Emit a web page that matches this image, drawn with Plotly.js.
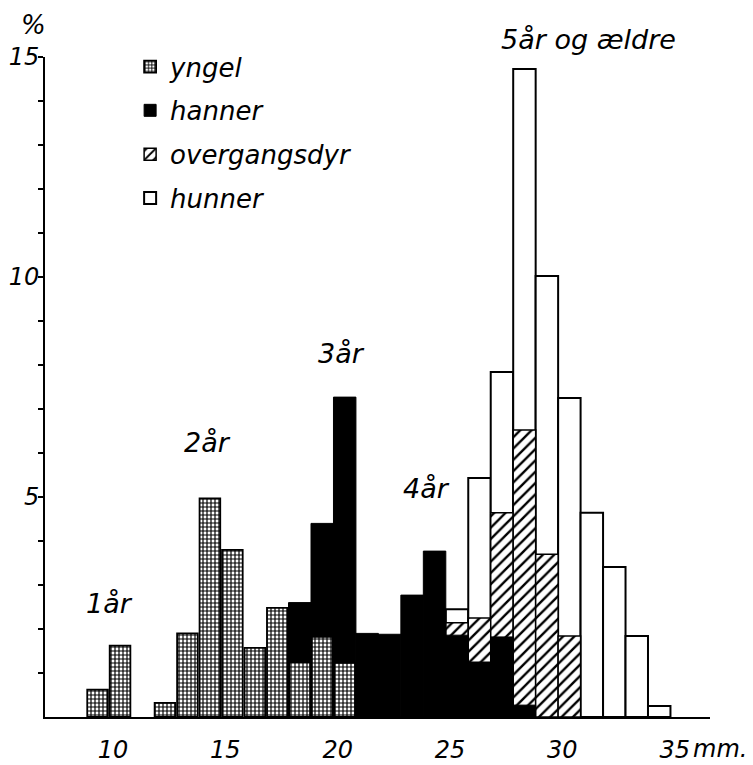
<!DOCTYPE html>
<html>
<head>
<meta charset="utf-8">
<script src="https://cdn.plot.ly/plotly-3.0.1.min.js"></script>
<style>html,body{margin:0;padding:0;background:#fff;}#chart{width:753px;height:765px;}</style>
</head>
<body>
<div id="chart"></div>
<script>
// Length classes (mm, bin centres) and percentages
const yngelX = [9, 10, 12, 13, 14, 15, 16, 17, 18, 19, 20];
const yngelY = [0.62, 1.62, 0.32, 1.9, 4.97, 3.8, 1.57, 2.48, 1.25, 1.82, 1.23];

const hannerX = [18, 19, 20, 21, 22, 23, 24, 25, 26, 27, 28];
const hannerY = [2.6, 4.4, 7.27, 1.9, 1.88, 2.77, 3.77, 1.86, 1.25, 1.82, 0.27];

const overgangX = [25, 26, 27, 28, 29, 30];
const overgangY = [2.14, 2.25, 4.64, 6.52, 3.7, 1.84];

const hunnerX = [25, 26, 27, 28, 29, 30, 31, 32, 33, 34];
const hunnerY = [2.45, 5.43, 7.84, 14.73, 10.02, 7.25, 4.64, 3.41, 1.84, 0.25];

const seriesNames = ["yngel", "hanner", "overgangsdyr", "hunner"];

const xTickVals = [10, 15, 20, 25, 30, 35];
const xTickText = ["10", "15", "20", "25", "30", "35"];
const yTickVals = [1, 2, 3, 4, 5, 6, 7, 8, 9, 10, 11, 12, 13, 14, 15];
const yTickText = ["", "", "", "", "5", "", "", "", "", "10", "", "", "", "", "15"];

const ageLabels = ["1år", "2år", "3år", "4år"];
const ageLabelX = [9.55, 13.9, 19.84, 23.66];
const ageLabelY = [2.57, 6.25, 8.27, 5.2];

const FONT = "DejaVu Sans, sans-serif";
const ital = (size) => ({family: FONT, size: size, color: "#000", style: "italic"});

const traces = [
  {
    type: "bar", name: seriesNames[3], x: hunnerX, y: hunnerY, width: 1,
    marker: {color: "#fff", line: {color: "#000", width: 2}},
    legendrank: 4, legendgroup: "d", hoverinfo: "x+y"
  },
  {
    type: "bar", name: seriesNames[2], x: overgangX, y: overgangY, width: 1,
    marker: {color: "#fff", line: {color: "#000", width: 1.5},
      pattern: {shape: "/", fgcolor: "#000", bgcolor: "#fff", size: 8, solidity: 0.3}},
    legendrank: 3, legendgroup: "c", hoverinfo: "x+y"
  },
  {
    type: "bar", name: seriesNames[1], x: hannerX, y: hannerY, width: 1,
    marker: {color: "#000", line: {color: "#000", width: 1}},
    legendrank: 2, legendgroup: "b", hoverinfo: "x+y"
  },
  {
    type: "bar", name: seriesNames[0], x: yngelX, y: yngelY, width: 0.92,
    marker: {color: "#fff", line: {color: "#000", width: 1.8},
      pattern: {shape: "+", fgcolor: "#000", bgcolor: "#fff", size: 4, solidity: 0.5}},
    legendrank: 1, legendgroup: "a", hoverinfo: "x+y"
  }
];

const annotations = ageLabels.map((t, i) => ({
  text: t, x: ageLabelX[i], y: ageLabelY[i], xref: "x", yref: "y",
  xanchor: "center", yanchor: "middle",
  showarrow: false, font: ital(27)
}));
annotations.push({text: "5år og ældre", x: 30.83, xref: "x", y: 1.026, yref: "paper",
  xanchor: "center", yanchor: "middle", showarrow: false, font: ital(27)});
annotations.push({text: "%", x: -0.018, xref: "paper", y: 1.048, yref: "paper",
  xanchor: "center", yanchor: "middle", showarrow: false, font: ital(26)});
annotations.push({text: "mm.", x: 35.42, xref: "x", xanchor: "left", y: -0.048, yref: "paper",
  yanchor: "middle", showarrow: false, font: ital(24)});

const layout = {
  width: 753, height: 765,
  margin: {l: 45, r: 43, t: 57, b: 48},
  paper_bgcolor: "#fff", plot_bgcolor: "#fff",
  barmode: "overlay", bargap: 0,
  showlegend: true,
  legend: {
    x: 0.128, y: 1.021, xanchor: "left", yanchor: "top",
    traceorder: "grouped", tracegroupgap: 7,
    font: ital(26), bgcolor: "rgba(0,0,0,0)", borderwidth: 0
  },
  xaxis: {
    range: [6.66, 36.26], showgrid: false, zeroline: false,
    showline: true, linecolor: "#000", linewidth: 2,
    ticks: "", tickmode: "array", tickvals: xTickVals, ticktext: xTickText,
    tickfont: ital(24), ticklabelshift: -7, ticklabelstandoff: 10
  },
  yaxis: {
    range: [0, 15], showgrid: false, zeroline: false,
    showline: true, linecolor: "#000", linewidth: 2,
    ticks: "outside", ticklen: 5, tickwidth: 2, tickcolor: "#000",
    tickmode: "array", tickvals: yTickVals, ticktext: yTickText,
    tickfont: ital(24), ticklabelstandoff: -6
  },
  annotations: annotations
};

Plotly.newPlot("chart", traces, layout, {displayModeBar: false, staticPlot: true});
</script>
</body>
</html>
